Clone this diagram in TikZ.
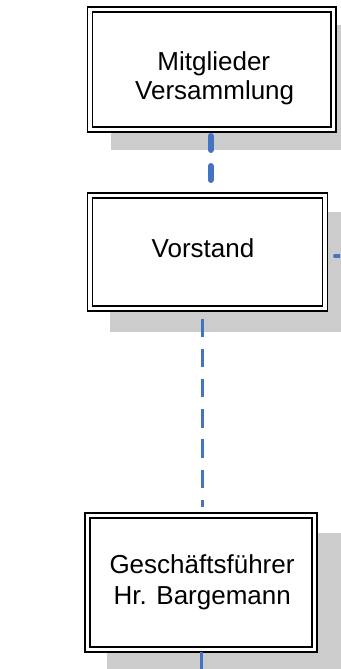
\documentclass[tikz,border=0pt]{standalone}
\usepackage{fontspec}
\setmainfont{Liberation Sans}
\usetikzlibrary{calc,backgrounds}
\definecolor{connblue}{HTML}{4472C4}
\definecolor{shadowgray}{HTML}{CCCCCC}
\begin{document}
\begin{tikzpicture}[x=1pt,y=-1pt,
  orgbox/.style={draw=black, double=white, double distance=3.3pt, line width=1.7pt, fill=white, inner sep=0pt, outer sep=0pt},
  lbl/.style={font=\fontsize{26}{30}\selectfont, anchor=base, inner sep=0pt, outer sep=0pt},
  shadowbox/.style={fill=shadowgray},
  connthick/.style={draw=connblue, line width=6.5pt, line cap=round, dash pattern=on 13.5pt off 16.5pt, dash phase=25.75pt},
  conndash/.style={draw=connblue, line width=3.8pt, dash pattern=on 18.5pt off 11.7pt, dash phase=23.2pt},
  connsolid/.style={draw=connblue, line width=3pt},
  connstub/.style={draw=connblue, line width=3.8pt, line cap=round}]
\useasboundingbox (0,0) rectangle (340,669);
\clip (0,0) rectangle (340,669);

% boxes
\node[orgbox, minimum width=243.5pt, minimum height=120pt] (b1) at (211.75,69.5) {};
\node[orgbox, minimum width=235pt, minimum height=113pt] (b2) at (207.5,252) {};
\node[orgbox, minimum width=227.5pt, minimum height=133.75pt] (b3) at (201,582.4) {};

% shadows
\begin{scope}[on background layer]
  \fill[shadowbox] ($(b1.north west)+(21,15.5)$) rectangle ($(b1.south east)+(26.5,20.5)$);
  \fill[shadowbox] ($(b2.north west)+(20,16.5)$) rectangle ($(b2.south east)+(26,23.5)$);
  \fill[shadowbox] ($(b3.north west)+(19.75,17.5)$) rectangle ($(b3.south east)+(26,26)$);
\end{scope}

% texts
\node[lbl] (t1a) at (213.8,70.7) {Mitglieder};
\node[lbl] (t1b) at (214.7,99.3) {Versammlung};
\node[lbl] (t2) at (203,257.3) {Vorstand};
\node[lbl] (t3a) at (202,573.3) {Geschäftsführer};
\node[lbl] (t3b) at (202.2,604.3) {Hr. Bargemann};

% connectors
\draw[connthick] ($(b1.south)+(-1,2.5)$) -- ($(b1.south |- b2.north)+(-1,-2.5)$);
\draw[conndash] ($(b3.north |- b2.south)+(1.5,3)$) -- ($(b3.north)+(1.5,-8.5)$);
\coordinate (c3end) at (201.7,680);
\draw[connsolid] ($(b3.south)+(0.7,2.5)$) -- (c3end);
\coordinate (c4end) at (360,256);
\draw[connstub] ($(b2.east)+(10,4)$) -- (c4end);
\end{tikzpicture}
\end{document}
